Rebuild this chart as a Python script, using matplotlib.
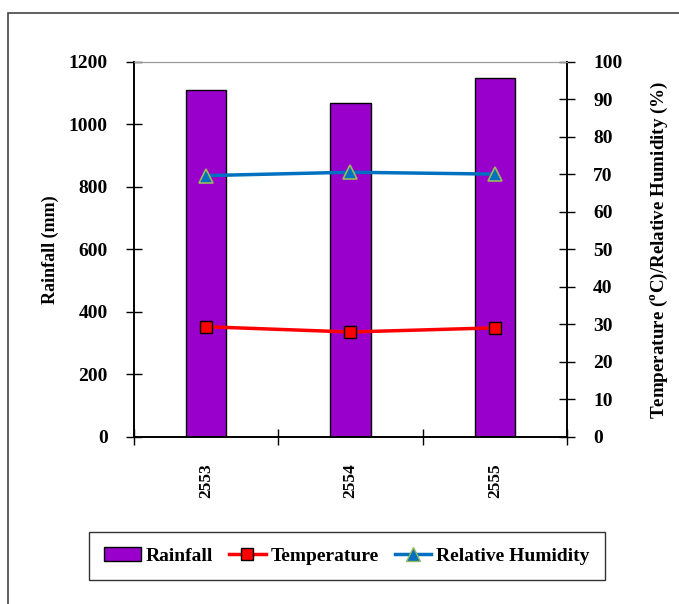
import numpy as np
import matplotlib
matplotlib.use("Agg")
import matplotlib.pyplot as plt
from matplotlib.patches import Rectangle
from matplotlib.lines import Line2D

plt.rcParams['font.family'] = ['Liberation Serif', 'DejaVu Serif']
plt.rcParams['font.weight'] = 'bold'
plt.rcParams['mathtext.fontset'] = 'custom'
plt.rcParams['mathtext.rm'] = 'Liberation Serif:bold'
plt.rcParams['mathtext.bf'] = 'Liberation Serif:bold'

# ข้อมูลรายปี
years = ["2553", "2554", "2555"]
rainfall = [1110, 1069, 1149]        # mm
temperature = [29.4, 28.0, 29.1]     # °C
humidity = [69.7, 70.6, 70.1]        # %

fig = plt.figure(figsize=(6.79, 6.04), dpi=100)
ax = fig.add_axes([0.1973, 0.2765, 0.6377, 0.6209])
ax2 = ax.twinx()

x = np.arange(len(years))
ax.bar(x, rainfall, width=0.28, color="#9900CC", edgecolor="black", linewidth=1.0, zorder=2)
ax.set_xlim(-0.5, 2.5)
ax.set_ylim(0, 1200)
ax.set_yticks(np.arange(0, 1201, 200))
ax.set_xticks([-0.5, 0.5, 1.5, 2.5], minor=False)
ax.set_xticklabels([])
ax.set_xticks(x, minor=True)
ax.set_xticklabels(years, minor=True, rotation=90, fontsize=12.5, fontweight='bold')
ax.tick_params(axis='x', which='major', direction='inout', length=11, width=1.0)
ax.tick_params(axis='x', which='minor', length=0, pad=19)
ax.tick_params(axis='y', direction='inout', length=11.5, width=1.0, labelsize=14, pad=13)
for lab in ax.get_yticklabels():
    lab.set_fontweight('bold')
ax.set_ylabel("Rainfall (mm)", fontsize=13, fontweight='bold', labelpad=7)

ax2.plot(x, temperature, color="#FF0000", lw=2.5, marker="s", ms=9,
         mfc="#FF0000", mec="black", mew=1.0, zorder=3)
ax2.plot(x, humidity, color="#0070C0", lw=2.5, marker="^", ms=10,
         mfc="#0070C0", mec="#9BBB59", mew=1.2, zorder=3)
ax2.set_ylim(0, 100)
ax2.set_yticks(np.arange(0, 101, 10))
ax2.tick_params(axis='y', direction='inout', length=11.5, width=1.0, labelsize=14, pad=13)
for lab in ax2.get_yticklabels():
    lab.set_fontweight('bold')
ax2.set_ylabel(r"Temperature ($^{\mathbf{o}}$C)/Relative Humidity (%)", fontsize=13.7,
               fontweight='bold', labelpad=19)

for a in (ax, ax2):
    a.spines['top'].set_color('#999999')
    a.spines['top'].set_linewidth(0.8)
    a.spines['left'].set_linewidth(1.2)
    a.spines['right'].set_linewidth(1.2)
    a.spines['bottom'].set_linewidth(1.2)

handles = [
    Rectangle((0, 0), 1, 1, facecolor="#9900CC", edgecolor="black", linewidth=1.0),
    Line2D([], [], color="#FF0000", lw=2.5, marker="s", ms=9, mfc="#FF0000", mec="black"),
    Line2D([], [], color="#0070C0", lw=2.5, marker="^", ms=10, mfc="#0070C0", mec="#9BBB59"),
]
leg = fig.legend(handles, ["Rainfall", "Temperature", "Relative Humidity"],
                 loc="center", bbox_to_anchor=(0.511, 0.0795), ncol=3,
                 frameon=True, fancybox=False, edgecolor="black",
                 prop={'size': 14, 'weight': 'bold'}, handlelength=1.9,
                 handletextpad=0.25, columnspacing=0.8, borderpad=0.8)
leg.get_frame().set_linewidth(1.0)

# กรอบรอบรูป
fig.patches.append(Rectangle((8 / 679, -0.1), 1.1, 1 - 13 / 604 + 0.1,
                             transform=fig.transFigure, fill=False,
                             edgecolor="#444444", linewidth=1.2))

fig.savefig("out.png", dpi=100)
